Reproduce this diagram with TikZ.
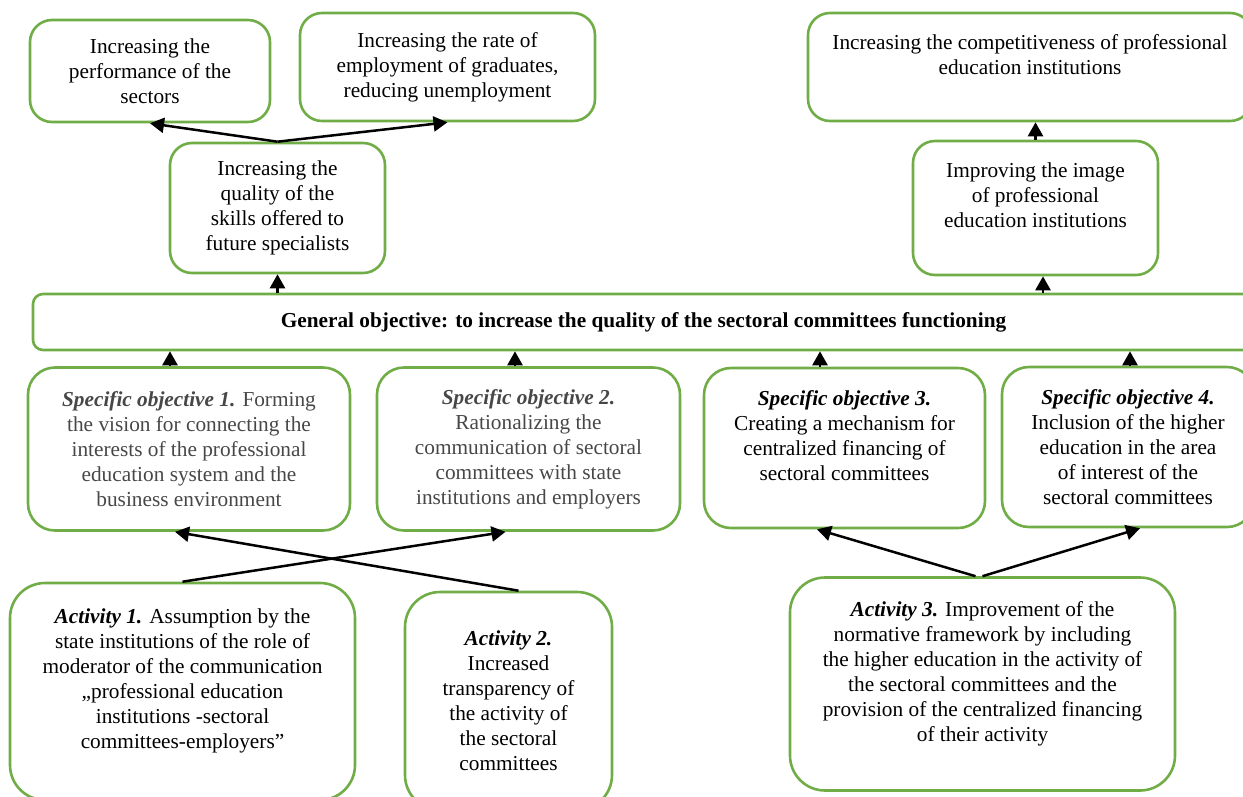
\documentclass[tikz,border=0pt]{standalone}
\usepackage{fontspec}
\setmainfont{Liberation Serif}
\usetikzlibrary{arrows.meta}
\definecolor{boxgreen}{HTML}{70AD47}
\tikzset{
  box/.style={draw=boxgreen,line width=2.6pt,rounded corners=#1,inner sep=0pt,align=center},
  box/.default=22pt,
  arr/.style={line width=2.5pt,-{Triangle[width=15pt,length=14pt]}},
  grey text/.style={text=black!72}
}

\begin{document}
\begin{tikzpicture}[x=1pt,y=-1pt,font=\fontsize{21.3}{25}\selectfont]
\clip (0,0) rectangle (1243,796);
\node[box,minimum width=240,minimum height=102] (perf) at (150,71) {Increasing the\\performance of the\\sectors};
\node[box,minimum width=295,minimum height=108] (employ) at (447.5,67) {Increasing the rate of\\employment of graduates,\\reducing unemployment};
\node[box,minimum width=444,minimum height=108] (compet) at (1030,67) {Increasing the competitiveness of professional\\education institutions\\\mbox{}};
\node[box,minimum width=215,minimum height=130] (quality) at (277.5,208) {Increasing the\\quality of the\\skills offered to\\future specialists};
\node[box,minimum width=245,minimum height=134] (image) at (1035.5,208) {Improving the image\\of professional\\education institutions\\\mbox{}};
\node[box=10pt,minimum width=1221,minimum height=56,font=\fontsize{21.3}{25}\selectfont\bfseries] (general) at (643.5,322) {General objective: to increase the quality of the sectoral committees functioning};

\node[box=27pt,grey text,minimum width=322,minimum height=163] (spec1) at (189,449) {\textbf{\textit{Specific objective 1.}} Forming\\the vision for connecting the\\interests of the professional\\education system and the\\business environment};
\node[box=27pt,grey text,minimum width=303,minimum height=163] (spec2) at (528.5,449) {\textbf{\textit{Specific objective 2.}}\\Rationalizing the\\communication of sectoral\\committees with state\\institutions and employers};
\node[box=27pt,minimum width=281,minimum height=160] (spec3) at (844.5,448) {\textbf{\textit{Specific objective 3.}}\\Creating a mechanism for\\centralized financing of\\sectoral committees\\\mbox{}};
\node[box=27pt,minimum width=252,minimum height=160] (spec4) at (1128,447) {\textbf{\textit{Specific objective 4.}}\\Inclusion of the higher\\education in the area\\of interest of the\\sectoral committees};

\node[box=35pt,minimum width=345,minimum height=217] (act1) at (182.5,691.5) {\textbf{\textit{Activity 1.}} Assumption by the\\state institutions of the role of\\moderator of the communication\\„professional education\\institutions -sectoral\\committees-employers”\\\mbox{}};
\node[box=35pt,minimum width=207,minimum height=218] (act2) at (508.5,701) {\textbf{\textit{Activity 2.}}\\Increased\\transparency of\\the activity of\\the sectoral\\committees};
\node[box=35pt,minimum width=385,minimum height=213] (act3) at (982.5,684) {\textbf{\textit{Activity 3.}} Improvement of the\\normative framework by including\\the higher education in the activity of\\the sectoral committees and the\\provision of the centralized financing\\of their activity\\\mbox{}};

\draw[arr] (quality.north) -- (perf.south);
\draw[arr] (quality.north) -- (employ.south);
\draw[arr] (image.north) -- (image.north |- compet.south);
\draw[arr] (general.north -| quality.south) -- (quality.south);
\draw[arr] ([xshift=7.5pt]image.south |- general.north) -- ([xshift=7.5pt]image.south);

\draw[arr] ([xshift=-19pt]spec1.north) -- ([xshift=-19pt]spec1.north |- general.south);
\draw[arr] ([xshift=-13.5pt]spec2.north) -- ([xshift=-13.5pt]spec2.north |- general.south);
\draw[arr] ([xshift=-24.5pt]spec3.north) -- ([xshift=-24.5pt]spec3.north |- general.south);
\draw[arr] ([xshift=2pt]spec4.north) -- ([xshift=2pt]spec4.north |- general.south);

\draw[arr] (act1.north) -- ([xshift=-23pt]spec2.south);
\draw[arr] ([xshift=10pt]act2.north) -- ([xshift=-14pt]spec1.south);
\draw[arr] ([xshift=-7pt]act3.north) -- ([xshift=-27.5pt]spec3.south);
\draw[arr] (act3.north) -- ([xshift=12pt]spec4.south);
\end{tikzpicture}
\end{document}
